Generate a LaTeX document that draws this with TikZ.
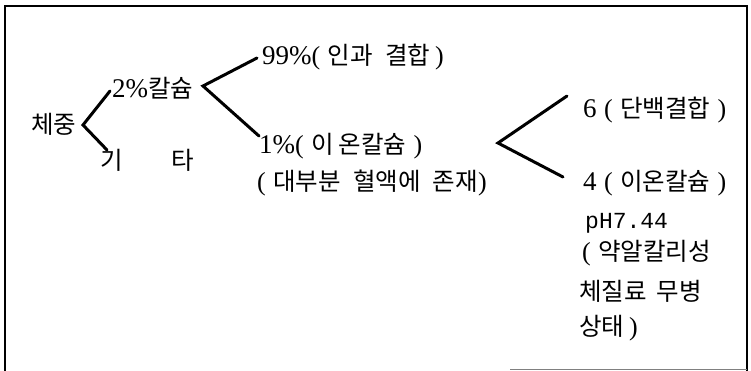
\documentclass[tikz,border=0pt]{standalone}
\usepackage{fontspec}
\newfontfamily\kr{Noto Sans CJK KR}
\newfontfamily\mono{Liberation Mono}
\newfontfamily\sr{Liberation Serif}
\newcommand{\lt}[1]{{\sr\fontsize{27}{30}\selectfont #1}}
\newcommand{\po}{{\sr\fontsize{26}{30}\selectfont (}}
\newcommand{\pc}{{\sr\fontsize{26}{30}\selectfont )}}
\begin{document}
\begin{tikzpicture}[x=1pt,y=-1pt,
  lbl/.style={anchor=west,inner sep=0pt,font=\kr\fontsize{24.5}{28}\selectfont},
  branch/.style={line width=3pt,line cap=round,line join=miter}]
\useasboundingbox (0,0) rectangle (751,371);
% frame
\draw[line width=1.2pt] (5,371) -- (5,6) -- (747,6) -- (747,371);
\draw[line width=0.8pt,gray] (510,369) -- (747,369);
% labels
\node[lbl] (body) at (31,124) {체중};
\node[lbl] (ca) at (112,88) {\lt{2\%}칼슘};
\node[lbl] (etc) at (100,160) {기\hspace{2.0em}타};
\node[lbl] (bone) at (262,57) {\lt{99\%}\po\hspace{0.3em}인과\hspace{0.5em}결합\hspace{0.2em}\pc};
\node[lbl] (ion) at (259,146) {\lt{1\%}\po\hspace{0.3em}이\hspace{0.2em}온칼슘\hspace{0.3em}\pc};
\node[lbl] (blood) at (257,183) {\po\hspace{0.3em}대부분\hspace{0.5em}혈액에\hspace{0.5em}존재\pc};
\node[lbl] (prot) at (583,110) {\lt{6}\hspace{0.3em}\po\hspace{0.3em}단백결합\hspace{0.3em}\pc};
\node[lbl] (ion2) at (583,183) {\lt{4}\hspace{0.3em}\po\hspace{0.3em}이온칼슘\hspace{0.3em}\pc};
\node[lbl,font=\mono\fontsize{23}{26}\selectfont] (ph) at (585,223) {pH7.44};
\node[lbl] (alk) at (582,253) {\po\hspace{0.3em}약알칼리성};
\node[lbl] (cons) at (579,291) {체질료\hspace{0.4em}무병};
\node[lbl] (state) at (579,328) {상태\hspace{0.2em}\pc};
% branch points
\coordinate (t1) at (83,125);
\coordinate (a1) at (110,91);
\coordinate (b1) at (107,150);
\coordinate (t2) at (203,86);
\coordinate (a2) at (257,58);
\coordinate (b2) at (259,136);
\coordinate (t3) at (498,143);
\coordinate (a3) at (567,96);
\coordinate (b3) at (563,177);
\draw[branch] (a1) -- (t1) -- (b1);
\draw[branch] (a2) -- (t2) -- (b2);
\draw[branch] (a3) -- (t3) -- (b3);
\end{tikzpicture}
\end{document}
